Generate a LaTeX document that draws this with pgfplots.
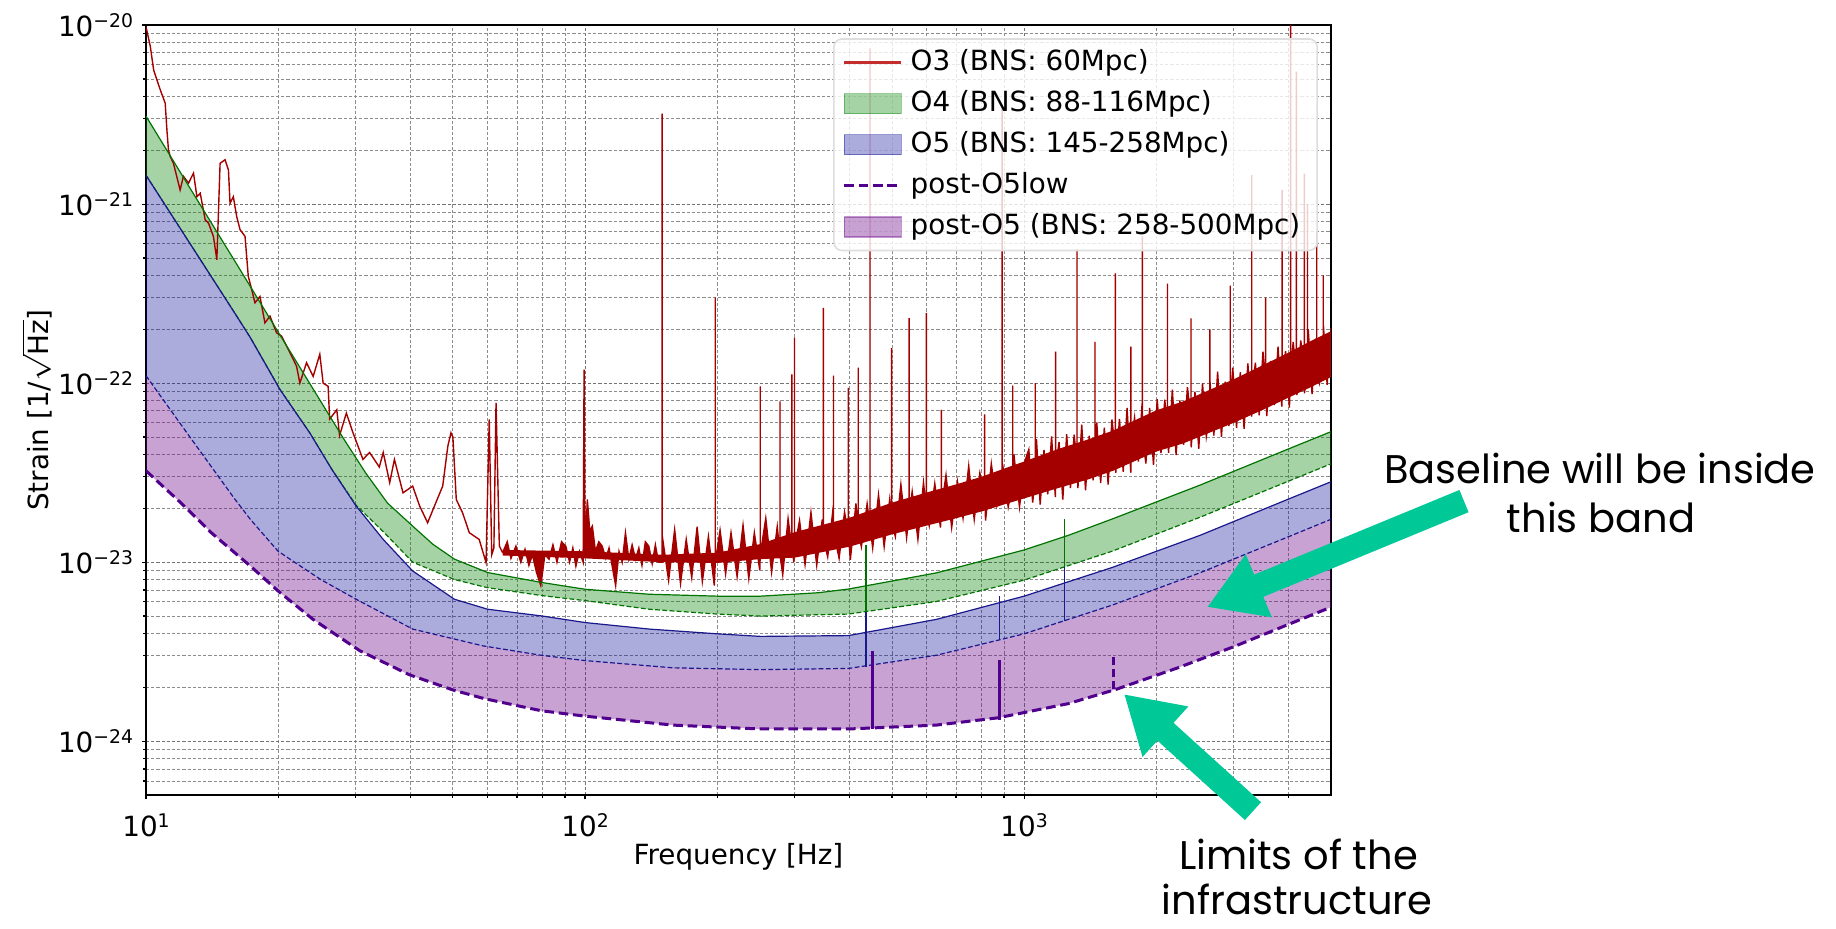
\documentclass[border=0pt]{standalone}
\usepackage{pgfplots}
\pgfplotsset{compat=1.18}
\usepgfplotslibrary{fillbetween}
\usetikzlibrary{arrows.meta}
\usepackage{fontspec}
\setmainfont{DejaVu Sans}
\newfontfamily\slidefont{Poppins}
\definecolor{o3red}{RGB}{165,0,0}
\definecolor{o3legend}{RGB}{195,45,45}
\definecolor{o4line}{RGB}{0,115,0}
\definecolor{o4fill}{RGB}{0,128,0}
\definecolor{o5line}{RGB}{25,25,140}
\definecolor{o5fill}{RGB}{0,0,150}
\definecolor{pline}{RGB}{80,0,140}
\definecolor{pfill}{RGB}{110,10,140}
\definecolor{arrowgreen}{RGB}{0,201,151}
\newcommand\ex[1]{\raisebox{0.33em}{\fontsize{4.7}{5}\selectfont #1}}
\newcommand\plotfont{\fontsize{6.95}{8}\selectfont}

\begin{document}
\begin{tikzpicture}
\begin{axis}[
  at={(0,0)}, anchor=south west,
  scale only axis, width=296.25pt, height=192.5pt,
  xmode=log, ymode=log,
  xmin=10, xmax=5000, ymin=5e-25, ymax=1e-20,
  xtick={10,100,1000},
  xticklabels={10\ex{1},10\ex{2},10\ex{3}},
  minor xtick={20,30,40,50,60,70,80,90,200,300,400,500,600,700,800,900,2000,3000,4000},
  ytick={1e-24,1e-23,1e-22,1e-21,1e-20},
  yticklabels={10\ex{−24},10\ex{−23},10\ex{−22},10\ex{−21},10\ex{−20}},
  minor ytick={6e-25,7e-25,8e-25,9e-25,2e-24,3e-24,4e-24,5e-24,6e-24,7e-24,8e-24,9e-24,2e-23,3e-23,4e-23,5e-23,6e-23,7e-23,8e-23,9e-23,2e-22,3e-22,4e-22,5e-22,6e-22,7e-22,8e-22,9e-22,2e-21,3e-21,4e-21,5e-21,6e-21,7e-21,8e-21,9e-21},
  tick pos=left, tick align=outside,
  major tick length=1.1pt, minor tick length=0.7pt,
  tick style={black, line width=0.3pt},
  axis line style={black, line width=0.45pt},
  grid=both,
  major grid style={black!55, line width=0.25pt, dash pattern=on 0.8pt off 0.5pt},
  minor grid style={black!45, line width=0.2pt, dash pattern=on 0.8pt off 0.5pt},
  tick label style={font=\plotfont},
  yticklabel style={xshift=1.4pt},
  xlabel={Frequency [Hz]},
  ylabel={Strain [1/$\sqrt{\mbox{Hz}}$]},
  every axis x label/.style={at={(axis description cs:0.5,-0.080)}, anchor=center, font=\plotfont},
  every axis y label/.style={at={(axis description cs:-0.092,0.5)}, rotate=90, anchor=center, font=\plotfont},
  legend cell align=left,
  legend style={at={(0.989,0.983)}, anchor=north east, draw=black!13, fill=white,
    fill opacity=0.8, text opacity=1, rounded corners=2pt, font=\plotfont,
    row sep=2.9pt, inner xsep=2.2pt, inner ysep=2.2pt,
    nodes={inner xsep=2pt, inner ysep=0.3pt}},
]
% ---- O3 measured curve ----
\addplot[o3red, line width=0.35pt, forget plot] coordinates {
(10.0,9.8e-21) (10.23,7.59e-21) (10.41,5.61e-21) (10.78,4.34e-21) (11.06,3.66e-21) (11.16,2.59e-21) (11.25,2.01e-21) (11.35,1.85e-21) (11.55,1.69e-21) (11.96,1.20e-21) (12.17,1.43e-21) (12.50,1.31e-21) (12.83,1.49e-21) (13.06,1.10e-21) (13.29,1.15e-21) (13.64,8.17e-22) (13.88,7.83e-22) (14.24,6.61e-22) (14.50,4.89e-22) (14.75,1.69e-21) (15.14,1.77e-21) (15.41,1.55e-21) (15.54,1.01e-21) (15.81,1.10e-21) (16.09,8.53e-22) (16.38,7.19e-22) (16.81,6.61e-22) (17.10,3.95e-22) (17.41,3.33e-22) (17.71,2.81e-22) (18.18,3.05e-22) (18.66,2.17e-22) (19.16,2.37e-22) (19.84,1.91e-22) (20.37,1.83e-22) (20.91,1.61e-22) (21.64,1.36e-22) (22.03,1.24e-22) (22.41,1.0e-22) (23.21,1.30e-22) (24.03,1.09e-22) (24.88,1.45e-22) (25.32,1.0e-22) (25.99,9.6e-23)
(26.2,6.3e-23) (27.2,7.1e-23) (27.6,5.1e-23) (28.6,6.8e-23) (29.6,5.3e-23) (31.2,3.75e-23) (32.3,4.1e-23) (34.0,3.4e-23) (34.7,4.1e-23) (35.9,2.78e-23) (36.8,3.75e-23) (38.5,2.44e-23) (40.5,2.66e-23) (42.0,2.06e-23) (43.8,1.66e-23) (45.4,2.06e-23) (47.4,2.66e-23) (48.7,4.45e-23) (49.5,5.28e-23) (50.0,5.0e-23) (50.9,2.24e-23) (52.6,1.89e-23) (54.5,1.46e-23) (57.4,1.34e-23) (59.5,9.95e-24) (60.5,6.27e-23) (61.3,1.1e-23) (62.0,1.2e-23) (62.7,7.76e-23) (63.8,1.23e-23) (64.9,1.13e-23)};

\addplot[name path=zig, o3red, line width=0.35pt, forget plot] coordinates {
(64.9,1.13e-23) (66.5,1.3e-23) (67.8,1.05e-23) (69.6,1.23e-23) (71.4,1.0e-23) (73.0,1.18e-23) (74.5,9.6e-24) (75.9,1.1e-23) (77.5,8.8e-24) (79.3,7.4e-24) (81.0,1.1e-23) (82.8,1.04e-23) (84.5,1.25e-23) (86.3,1.0e-23) (88.4,1.3e-23) (90.4,1.23e-23) (92.2,1.0e-23) (93.8,1.2e-23) (95.3,9.5e-24) (97.1,1.15e-23) (99.0,1.0e-23) (99.5,1.19e-22) (100.0,1.1e-23) (101.2,2.24e-23) (102.5,1.5e-23) (103.9,1.59e-23) (105.6,1.15e-23) (107.5,1.3e-23) (109.4,1.23e-23) (111.5,1.05e-23) (113.4,1.2e-23) (115.3,9.5e-24) (117.4,7.4e-24) (119.5,1.15e-23) (121.5,1.0e-23) (123.6,1.46e-23) (125.8,1.04e-23) (128,1.25e-23) (130.3,1.04e-23) (132.6,1.2e-23) (134.8,9.6e-24) (137.2,1.3e-23) (139.7,1.23e-23) (142.2,9.8e-24) (144.6,1.25e-23) (147,1.0e-23)
(149.8,1.0e-23) (149.8,3.2e-21) (149.8,1.42e-23) (155,7.9e-24) (160,1.52e-23) (165,7.6e-24) (170,1.34e-23) (175,8.2e-24) (180,1.58e-23) (185,7.8e-24) (191,1.39e-23) (197,7.4e-24) (198,1.0e-23) (198,3.0e-22) (198,1.0e-23) (203,1.51e-23) (209,8.6e-24) (215,1.46e-23) (222,8.3e-24) (229,1.61e-23) (236,8.1e-24) (243,1.46e-23) (250,9.0e-24) (250.6,1.1e-23) (250.6,9.6e-23) (250.6,1.1e-23) (258,1.76e-23) (266,8.8e-24) (274,1.58e-23) (278,1.1e-23) (278,7.9e-23) (278,1.1e-23) (282,8.5e-24) (290,1.75e-23) (295.8,1.2e-23) (295.8,1.12e-22) (295.8,1.2e-23) (299,1.0e-23) (300,1.2e-23) (300,1.79e-22) (300,1.2e-23) (308,1.71e-23) (317,9.7e-24) (327,1.9e-23) (337,9.6e-24) (347,1.73e-23) (349,1.35e-23) (349,2.63e-22) (349,1.35e-23) (357,1.07e-23) (368,2.09e-23) (368,1.1e-22) (368,1.5e-23) (379,1.05e-23) (390,1.9e-23) (397.8,1.45e-23) (397.8,9.4e-23) (397.8,1.45e-23) (402,1.03e-23) (414,2.13e-23) (419,1.5e-23) (419,1.22e-22) (419,1.5e-23) (426,1.22e-23) (439,2.12e-23) (445.7,1.6e-23) (445.7,7.4e-21) (445.7,1.6e-23) (452,1.2e-23) (466,2.38e-23) (480,1.22e-23) (494,2.23e-23) (499,1.7e-23) (499,1.57e-22) (499,1.7e-23) (509,1.39e-23) (524,2.72e-23) (540,1.37e-23) (547,1.85e-23) (547,2.31e-22) (547,1.85e-23) (556,2.48e-23) (573,1.34e-23) (590,2.78e-23) (599,1.95e-23) (599,2.47e-22) (599,1.95e-23) (608,1.6e-23) (626,2.75e-23) (645,1.56e-23) (648,2.0e-23) (648,7.1e-23) (648,2.0e-23) (664,3.07e-23) (684,1.56e-23) (705,2.82e-23) (726,1.76e-23) (748,3.45e-23) (770,1.73e-23) (793,3.15e-23) (813,2.4e-23) (813,6.7e-23) (813,2.4e-23) (817,1.71e-23) (842,3.55e-23) (867,2.06e-23) (891,2.6e-23) (891,3.43e-21) (891,2.6e-23) (893,3.55e-23) (920,2.03e-23) (942,2.8e-23) (942,9.7e-23) (942,2.8e-23) (948,4.0e-23) (976,2.03e-23) (1005,3.7e-23)
(1025,4.26e-23) (1046,2.15e-23) (1060,3.0e-23) (1060,1.0e-22) (1060,3.0e-23) (1067,4.86e-23) (1088,2.10e-23) (1110,4.24e-23) (1132,2.39e-23) (1155,5.04e-23) (1178,2.31e-23) (1180,3.3e-23) (1180,1.5e-22) (1180,3.3e-23) (1201,4.69e-23) (1225,2.24e-23) (1250,5.18e-23) (1275,2.59e-23) (1300,5.15e-23) (1320,3.6e-23) (1320,5.6e-22) (1320,3.6e-23) (1326,2.59e-23) (1353,5.86e-23) (1380,2.52e-23) (1407,5.08e-23) (1436,2.87e-23) (1450,3.9e-23) (1450,1.7e-22) (1450,3.9e-23) (1464,6.03e-23) (1494,2.77e-23) (1523,5.64e-23) (1554,2.71e-23) (1585,6.26e-23) (1614,4.2e-23) (1614,4.1e-22) (1614,4.2e-23) (1617,3.15e-23) (1649,6.31e-23) (1682,3.20e-23) (1716,7.28e-23) (1750,3.16e-23) (1750,1.6e-22) (1750,4.6e-23) (1785,6.43e-23) (1821,3.65e-23) (1857,7.70e-23) (1860,5e-23) (1860,6.6e-22) (1860,5e-23) (1894,3.56e-23) (1932,7.28e-23) (1971,3.50e-23) (2010,8.13e-23) (2050,4.07e-23) (2091,8.09e-23) (2121,5.6e-23) (2121,3.6e-22) (2121,5.6e-23) (2133,4.08e-23) (2176,9.2e-23) (2219,3.97e-23) (2264,8.0e-23) (2309,4.52e-23) (2355,9.5e-23) (2400,6.2e-23) (2400,2.3e-22) (2400,6.2e-23) (2402,4.38e-23) (2450,8.95e-23) (2499,4.30e-23) (2549,9.98e-23) (2600,5.03e-23) (2650,6.9e-23) (2650,2.0e-22) (2650,6.9e-23) (2652,1.01e-22) (2705,5.10e-23) (2759,1.16e-22) (2815,5.01e-23) (2871,1.02e-22) (2928,5.76e-23) (2948,7.8e-23) (2948,3.5e-22) (2948,7.8e-23) (2987,1.22e-22) (3047,5.63e-23) (3108,1.15e-22) (3170,5.55e-23) (3233,1.29e-22) (3298,6.50e-23) (3300,8.8e-23) (3300,1.45e-21) (3300,8.8e-23) (3364,1.30e-22) (3431,6.62e-23) (3500,1.50e-22) (3550,9.5e-23) (3550,3.0e-22) (3550,9.5e-23) (3570,6.54e-23) (3641,1.33e-22) (3714,7.55e-23) (3788,1.60e-22) (3864,7.39e-23) (3870,1.05e-22) (3870,1.2e-21) (3870,1.05e-22) (3941,1.51e-22) (4020,7.30e-23) (4045,1.1e-22) (4045,2e-20) (4045,1.1e-22) (4100,1.70e-22) (4170,1.15e-22) (4170,5.5e-21) (4170,1.15e-22) (4182,8.58e-23) (4266,1.73e-22) (4350,1.2e-22) (4350,1.48e-21) (4350,1.2e-22) (4351,8.78e-23) (4420,1.23e-22) (4420,1.0e-21) (4420,1.23e-22) (4438,2.0e-22) (4527,8.70e-23) (4618,1.77e-22) (4640,1.3e-22) (4640,7.1e-22) (4640,1.3e-22) (4710,1.01e-22) (4800,1.35e-22) (4800,4e-22) (4800,1.35e-22) (4804,2.12e-22) (4900,9.8e-23) (4998,2.02e-22)};

% dense middle of the noise: a core band, and the area up to the noisy curve
\addplot[name path=o3c, draw=none, forget plot] coordinates {(64.9,1.13e-23) (100,1.1e-23) (150,1.05e-23) (200,1.06e-23) (250,1.15e-23) (300,1.25e-23) (400,1.47e-23) (500,1.76e-23) (600,1.98e-23) (700,2.19e-23) (800,2.4e-23) (900,2.65e-23) (1000,2.88e-23) (1200,3.35e-23) (1400,3.75e-23) (1600,4.2e-23) (1800,4.8e-23) (2000,5.4e-23) (2300,6.0e-23) (2600,6.8e-23) (3000,7.9e-23) (3500,9.4e-23) (4000,1.1e-22) (4500,1.27e-22) (4998,1.44e-22)};
\addplot[o3red, forget plot] fill between[of=zig and o3c];
\addplot[name path=o3lo, draw=none, forget plot] coordinates {(64.9,1.09e-23) (100,1.05e-23) (150,1.0e-23) (200,9.9e-24) (250,1.04e-23) (300,1.06e-23) (400,1.22e-23) (500,1.43e-23) (600,1.6e-23) (700,1.76e-23) (800,1.92e-23) (900,2.1e-23) (1000,2.27e-23) (1200,2.6e-23) (1400,2.9e-23) (1600,3.25e-23) (1800,3.7e-23) (2000,4.15e-23) (2300,4.6e-23) (2600,5.2e-23) (3000,6.0e-23) (3500,7.1e-23) (4000,8.3e-23) (4500,9.5e-23) (4998,1.08e-22)};
\addplot[name path=o3hi, draw=none, forget plot] coordinates {(64.9,1.17e-23) (100,1.15e-23) (150,1.1e-23) (200,1.13e-23) (250,1.26e-23) (300,1.47e-23) (400,1.77e-23) (500,2.15e-23) (600,2.45e-23) (700,2.72e-23) (800,3.0e-23) (900,3.33e-23) (1000,3.65e-23) (1200,4.3e-23) (1400,4.85e-23) (1600,5.45e-23) (1800,6.25e-23) (2000,7.05e-23) (2300,7.9e-23) (2600,9.0e-23) (3000,1.05e-22) (3500,1.26e-22) (4000,1.48e-22) (4500,1.72e-22) (4998,1.95e-22)};
\addplot[o3red, forget plot] fill between[of=o3lo and o3hi];

% ---- design curves ----
\addplot[name path=A, o4line, line width=0.3pt, forget plot] coordinates {(10,3.10e-21) (12.59,1.23e-21) (15.85,4.91e-22) (19.95,1.95e-22) (22.39,1.23e-22) (25.12,7.76e-23) (28.18,4.9e-23) (31.62,3.16e-23) (35.48,2.14e-23) (40.5,1.59e-23) (45,1.26e-23) (50.4,1.04e-23) (60,8.75e-24) (80,7.69e-24) (100,7.06e-24) (140,6.62e-24) (200,6.46e-24) (251.2,6.46e-24) (340,6.75e-24) (398.1,7.08e-24) (631,8.71e-24) (1000,1.17e-23) (1259,1.41e-23) (1585,1.74e-23) (2512,2.69e-23) (3981,4.27e-23) (5012,5.37e-23)};
\addplot[name path=B, o4line, line width=0.3pt, dash pattern=on 1.2pt off 0.6pt, forget plot] coordinates {(10,1.45e-21) (12.59,6.03e-22) (15.85,2.51e-22) (17.3,1.79e-22) (20.2,9.2e-23) (23.6,5.28e-23) (26.5,3.3e-23) (30.1,2.08e-23) (35,1.45e-23) (40.5,1.0e-23) (50.4,8.0e-24) (60,7.2e-24) (80,6.5e-24) (100,6.1e-24) (140,5.46e-24) (200,5.13e-24) (251.2,5.0e-24) (398.1,5.13e-24) (631,6.03e-24) (1000,7.94e-24) (1585,1.15e-23) (2512,1.78e-23) (3981,2.82e-23) (5012,3.55e-23)};
\addplot[name path=C, o5line, line width=0.3pt, forget plot] coordinates {(10,1.45e-21) (12.59,6.03e-22) (15.85,2.51e-22) (17.3,1.79e-22) (20.2,9.2e-23) (23.6,5.28e-23) (26.5,3.3e-23) (30.1,2.06e-23) (34.7,1.34e-23) (40.5,8.93e-24) (50.4,6.21e-24) (60,5.46e-24) (80,5.0e-24) (100,4.6e-24) (140,4.23e-24) (200,3.98e-24) (251.2,3.85e-24) (398.1,3.89e-24) (631,4.79e-24) (1000,6.46e-24) (1585,9.33e-24) (2512,1.41e-23) (3981,2.24e-23) (5012,2.82e-23)};
\addplot[name path=D, o5line, line width=0.3pt, dash pattern=on 1.2pt off 0.6pt, forget plot] coordinates {(10,1.10e-22) (12.59,5.0e-23) (15.85,2.29e-23) (17.3,1.73e-23) (20,1.15e-23) (25,8.0e-24) (30.1,6.21e-24) (40.5,4.23e-24) (58.5,3.41e-24) (79.43,3.02e-24) (100,2.82e-24) (158.5,2.57e-24) (251.2,2.51e-24) (398.1,2.55e-24) (631,3.02e-24) (1000,3.98e-24) (1585,5.75e-24) (2512,8.71e-24) (3981,1.38e-23) (5012,1.74e-23)};
\addplot[name path=E, pline, line width=0.75pt, dash pattern=on 2.4pt off 1.2pt, forget plot] coordinates {(10,3.24e-23) (12.02,2.14e-23) (14.13,1.45e-23) (17.3,9.5e-24) (20,6.9e-24) (23.99,4.8e-24) (30.7,3.2e-24) (39.81,2.35e-24) (50.12,1.93e-24) (58.88,1.73e-24) (79.43,1.48e-24) (100,1.38e-24) (158.5,1.23e-24) (251.2,1.17e-24) (398.1,1.17e-24) (631,1.23e-24) (870.9,1.35e-24) (1259,1.62e-24) (1622,1.95e-24) (2239,2.57e-24) (3020,3.39e-24) (3981,4.47e-24) (5012,5.62e-24)};

\addplot[o4fill, fill opacity=0.35, forget plot] fill between[of=A and B];
\addplot[o5fill, fill opacity=0.33, forget plot] fill between[of=C and D];
\addplot[pfill, fill opacity=0.38, forget plot] fill between[of=D and E];

% narrow lines of the design curves
\addplot[o5line, line width=0.35pt, forget plot] coordinates {(436,2.6e-24) (436,5.25e-24)};
\addplot[o5line, line width=0.35pt, forget plot] coordinates {(880,3.68e-24) (880,6.49e-24)};
\addplot[o5line, line width=0.35pt, forget plot] coordinates {(1236,4.72e-24) (1236,9.95e-24)};
\addplot[o4line, line width=0.35pt, forget plot] coordinates {(436,5.25e-24) (436,1.24e-23)};
\addplot[o4line, line width=0.35pt, forget plot] coordinates {(1236,9.4e-24) (1236,1.74e-23)};
\addplot[pline, line width=0.7pt, forget plot] coordinates {(452,1.17e-24) (452,3.2e-24)};
\addplot[pline, line width=0.7pt, forget plot] coordinates {(880,1.32e-24) (880,2.86e-24)};
\addplot[pline, line width=0.7pt, dash pattern=on 2pt off 1pt, forget plot] coordinates {(1600,1.95e-24) (1600,3.05e-24)};

% ---- legend ----
\addlegendimage{legend image code/.code={\draw[o3legend, line width=0.6pt] (0cm,0cm) -- (0.5cm,0cm);}}
\addlegendentry{O3 (BNS: 60Mpc)}
\addlegendimage{legend image code/.code={\filldraw[sharp corners, fill=o4fill, fill opacity=0.35, draw=o4fill, draw opacity=0.4, line width=0.3pt] (0cm,-0.088cm) rectangle (0.5cm,0.088cm);}}
\addlegendentry{O4 (BNS: 88-116Mpc)}
\addlegendimage{legend image code/.code={\filldraw[sharp corners, fill=o5fill, fill opacity=0.33, draw=o5fill, draw opacity=0.4, line width=0.3pt] (0cm,-0.088cm) rectangle (0.5cm,0.088cm);}}
\addlegendentry{O5 (BNS: 145-258Mpc)}
\addlegendimage{legend image code/.code={\draw[pline, line width=0.75pt, dash pattern=on 2.4pt off 1.2pt] (0cm,0cm) -- (0.5cm,0cm);}}
\addlegendentry{post-O5low}
\addlegendimage{legend image code/.code={\filldraw[sharp corners, fill=pfill, fill opacity=0.38, draw=pfill, draw opacity=0.42, line width=0.3pt] (0cm,-0.088cm) rectangle (0.5cm,0.088cm);}}
\addlegendentry{post-O5 (BNS: 258-500Mpc)}
\end{axis}

% ---- slide annotations ----
\draw[arrowgreen, line width=6pt, -{Triangle[length=14pt,width=16pt]}] (329.5pt,73.5pt) -- (265.25pt,47pt);
\draw[arrowgreen, line width=6pt, -{Triangle[length=14pt,width=16pt]}] (276.75pt,-4pt) -- (244.5pt,25.25pt);
\node[anchor=base, font=\slidefont\fontsize{10}{12}\selectfont] at (363.5pt,78pt) {Baseline will be inside};
\node[anchor=base, font=\slidefont\fontsize{10}{12}\selectfont] at (363.75pt,65.75pt) {this band};
\node[anchor=base, font=\slidefont\fontsize{10}{12}\selectfont] at (288.15pt,-18.5pt) {Limits of the};
\node[anchor=base, font=\slidefont\fontsize{10}{12}\selectfont] at (287.75pt,-29.75pt) {infrastructure};
\path (-36.5pt,-33.25pt) rectangle (422.5pt,198pt);
\end{tikzpicture}
\end{document}
